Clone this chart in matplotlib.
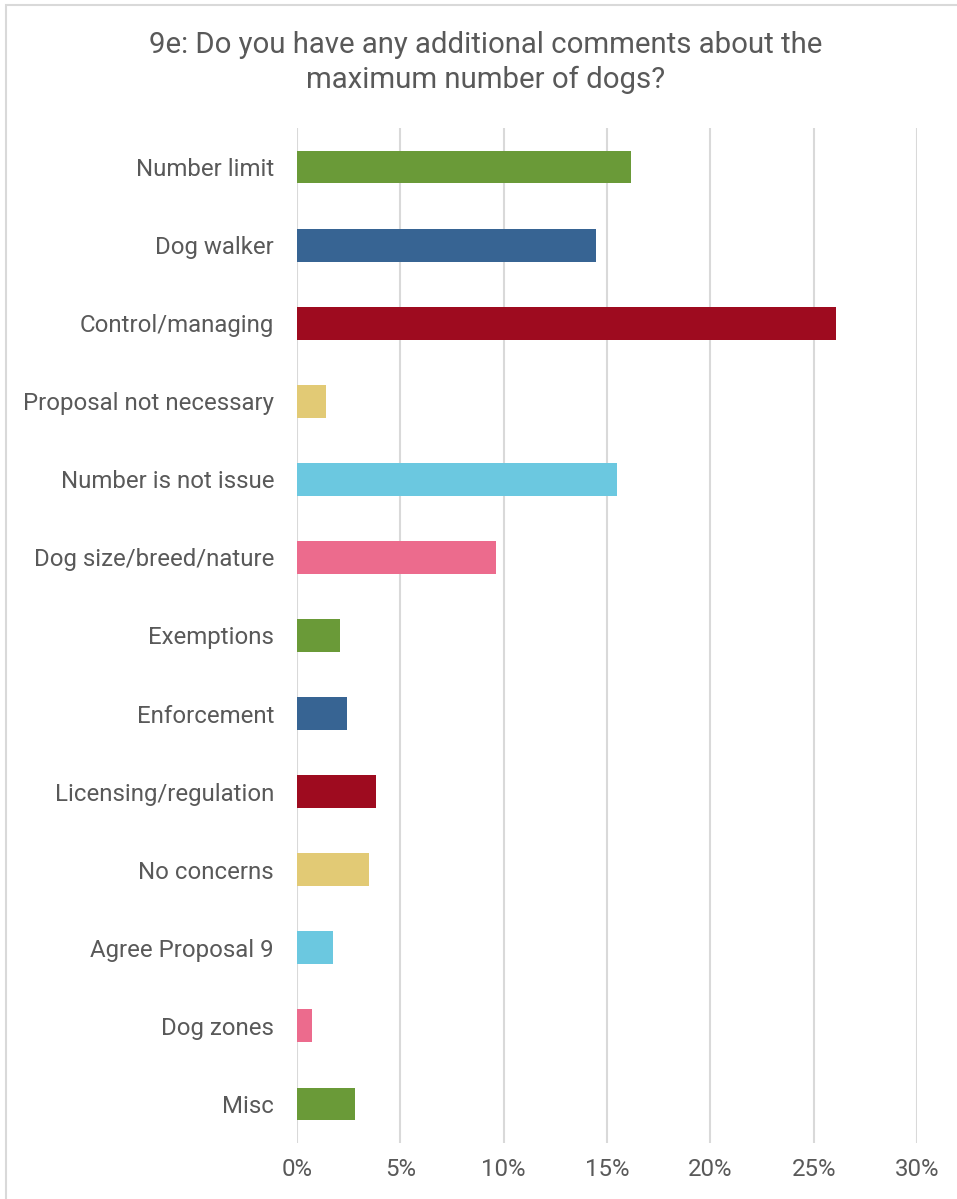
import matplotlib.pyplot as plt
from matplotlib.patches import Rectangle
from matplotlib.ticker import FuncFormatter

plt.rcParams['font.family'] = ['Roboto', 'DejaVu Sans']

# data (percent of responses)
categories = ["Number limit", "Dog walker", "Control/managing", "Proposal not necessary",
              "Number is not issue", "Dog size/breed/nature", "Exemptions", "Enforcement",
              "Licensing/regulation", "No concerns", "Agree Proposal 9", "Dog zones", "Misc"]
values = [16.17, 14.46, 26.1, 1.42, 15.47, 9.63, 2.1, 2.44, 3.83, 3.48, 1.76, 0.74, 2.8]
palette = ["#6A9A38", "#376493", "#9E0B1F", "#E2CA75", "#6BC8E0", "#EC6B8D"]
colors = [palette[i % len(palette)] for i in range(len(categories))]
xticks = [0, 5, 10, 15, 20, 25, 30]

TXT = '#595959'
GRID = '#D9D9D9'

fig = plt.figure(figsize=(9.57, 11.99), dpi=100)
fig.patch.set_facecolor('white')

# outer chart border (runs off right/bottom edge like the screenshot)
fig.patches.append(Rectangle((6 / 957, -0.05), 1.2, 1.05 - 5 / 1199, transform=fig.transFigure,
                             fill=False, edgecolor=GRID, linewidth=1.5))

ax = fig.add_axes([297 / 957, 1 - 1143 / 1199, (917 - 297) / 957, (1143 - 128) / 1199])
y = list(range(len(categories)))
ax.barh(y, values, height=0.42, color=colors, zorder=3)
ax.set_ylim(len(categories) - 0.5, -0.5)
ax.set_xlim(0, 30)
ax.set_xticks(xticks)
ax.xaxis.set_major_formatter(FuncFormatter(lambda v, p: f"{v:.0f}%"))
ax.set_yticks(y)
ax.set_yticklabels(categories)

ax.grid(axis='x', color=GRID, linewidth=1.5, zorder=0)
for s in ax.spines.values():
    s.set_visible(False)
ax.tick_params(axis='both', length=0, colors=TXT, labelsize=17.3)
ax.tick_params(axis='y', pad=16.5)
ax.tick_params(axis='x', pad=11)

fig.text(486 / 957, 1 - 62.5 / 1199, "9e: Do you have any additional comments about the\nmaximum number of dogs?",
         ha='center', va='center', fontsize=21.2, color=TXT, linespacing=1.3)

plt.savefig('out.png', dpi=100)
